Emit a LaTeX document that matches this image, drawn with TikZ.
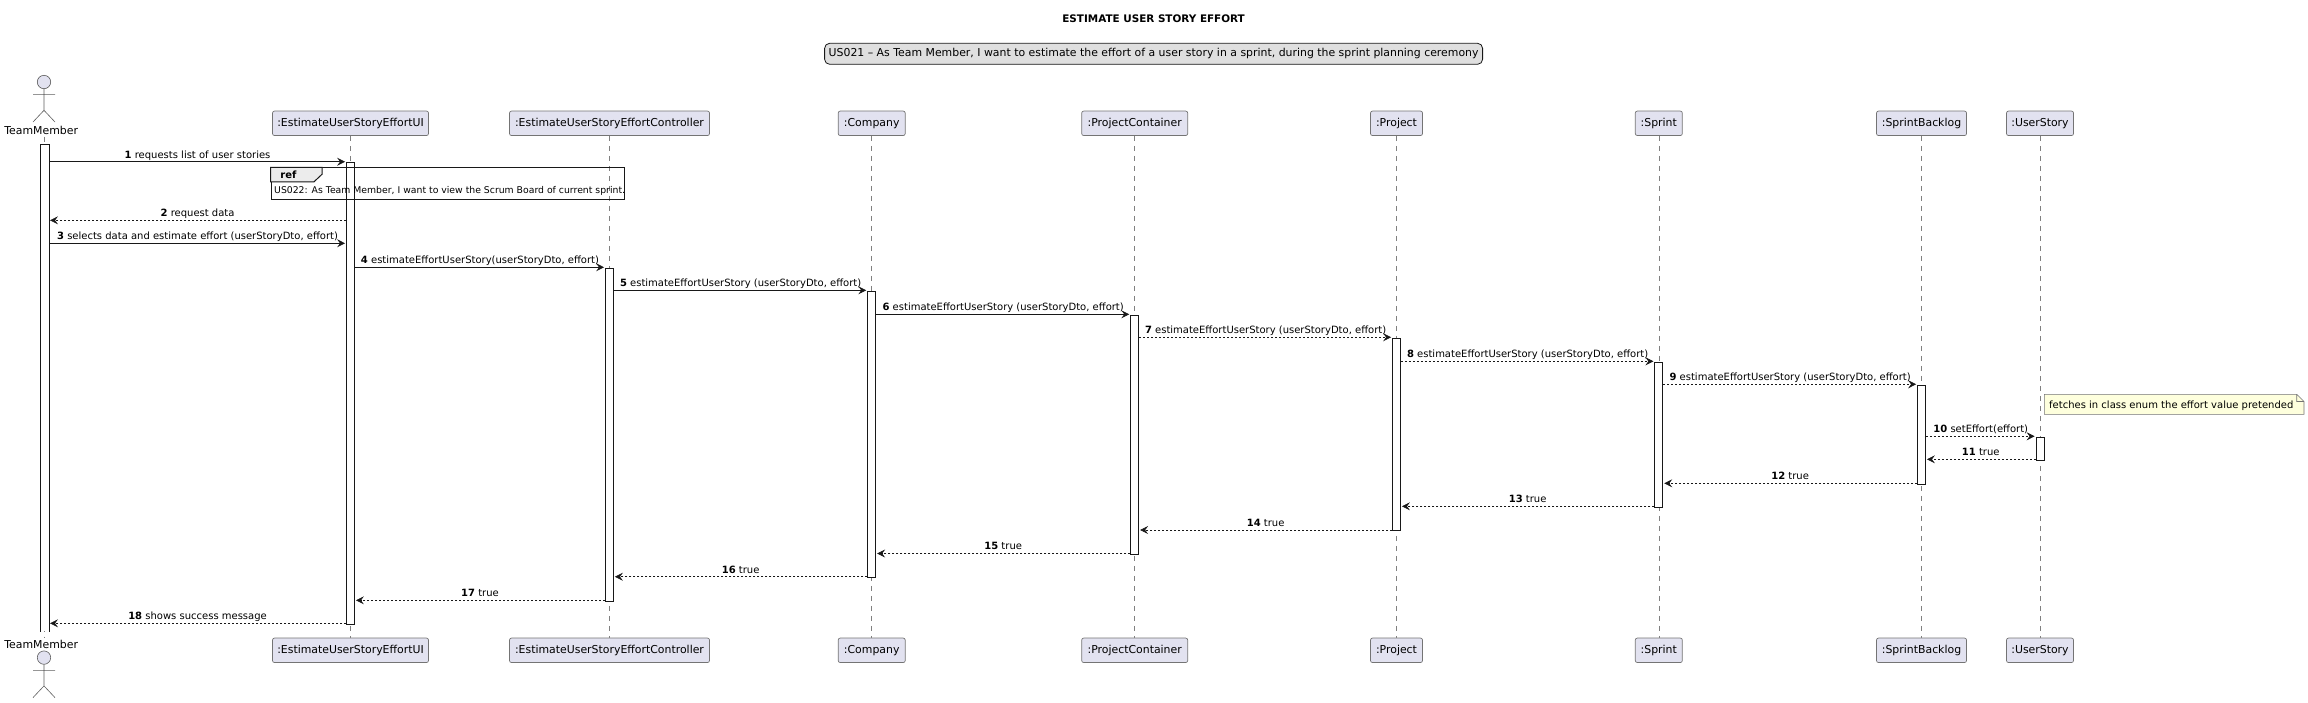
\documentclass[tikz,border=0pt]{standalone}
\usepackage{fontspec}
\setmainfont{DejaVu Sans}
\usetikzlibrary{arrows.meta,positioning}
\definecolor{partfill}{HTML}{E2E2F0}
\definecolor{inkdark}{HTML}{181818}
\definecolor{notefill}{HTML}{FEFFDD}
\newcommand{\sizeA}{\fontsize{10.9}{13}\selectfont}
\newcommand{\sizeB}{\fontsize{10}{12}\selectfont}
\begin{document}
\begin{tikzpicture}[x=1pt,y=-1pt,node distance=40pt,
  box/.style={rectangle,draw=inkdark!60,fill=partfill,rounded corners=2pt,line width=0.7pt,minimum height=24.5pt,inner sep=0pt,font=\sizeA},
  lifeline/.style={draw=inkdark!55,line width=0.5pt,dash pattern=on 5pt off 5pt},
  bar/.style={rectangle,draw=inkdark,fill=white,line width=0.8pt,minimum width=8pt,inner sep=0pt},
  arrow/.style={-{Stealth[length=8pt,width=8pt,inset=3pt]},draw=inkdark,line width=0.75pt,shorten >=1pt},
  back/.style={arrow,line width=0.6pt,dash pattern=on 2pt off 2pt},
  msg/.style={font=\sizeB,anchor=base,yshift=3.6pt,inner sep=0pt},
  actorline/.style={draw=inkdark!70,line width=0.6pt}]
\useasboundingbox (0,0) rectangle (2308,702);
% title and header
\node[font=\fontsize{10.4}{12}\selectfont\bfseries,inner sep=0pt] (title) at (1153.6,19) {ESTIMATE USER STORY EFFORT};
\node[draw=inkdark,fill=gray!25,rounded corners=5pt,line width=0.8pt,font=\sizeA,inner sep=0pt,minimum height=21pt,minimum width=658pt] (story) at (1153.6,53.8)
  {US021 – As Team Member, I want to estimate the effort of a user story in a sprint, during the sprint planning ceremony};
% participants
\node[box,minimum width=156pt] (ui) at (350.5,123.3) {:EstimateUserStoryEffortUI};
\node[box,minimum width=200pt,right=80.3pt of ui] (controller) {:EstimateUserStoryEffortController};
\node[box,minimum width=67pt,right=128pt of controller] (company) {:Company};
\node[box,minimum width=106pt,right=175.8pt of company] (container) {:ProjectContainer};
\node[box,minimum width=52pt,right=182.1pt of container] (project) {:Project};
\node[box,minimum width=47pt,right=212.1pt of project] (sprint) {:Sprint};
\node[box,minimum width=90pt,right=193.5pt of sprint] (backlog) {:SprintBacklog};
\node[box,minimum width=67pt,right=39.3pt of backlog] (story1) {:UserStory};
\node[box,minimum width=156pt,below=501.8pt of ui] (uiB) {:EstimateUserStoryEffortUI};
\node[box,minimum width=200pt,below=501.8pt of controller] (controllerB) {:EstimateUserStoryEffortController};
\node[box,minimum width=67pt,below=501.8pt of company] (companyB) {:Company};
\node[box,minimum width=106pt,below=501.8pt of container] (containerB) {:ProjectContainer};
\node[box,minimum width=52pt,below=501.8pt of project] (projectB) {:Project};
\node[box,minimum width=47pt,below=501.8pt of sprint] (sprintB) {:Sprint};
\node[box,minimum width=90pt,below=501.8pt of backlog] (backlogB) {:SprintBacklog};
\node[box,minimum width=67pt,below=501.8pt of story1] (story1B) {:UserStory};
% actor, top and bottom
\node[font=\sizeA,inner sep=0pt] (member) at (41.2,130) {TeamMember};
\node[circle,draw=inkdark!70,fill=partfill,line width=0.6pt,minimum size=13.4pt,inner sep=0pt] (head) at (44,82) {};
\draw[actorline] (head.south) -- ++(0,21.3) coordinate (hip) -- ++(-11,11.7) (hip) -- ++(11,11.7) (33,94.3) -- (55,94.3);
\node[font=\sizeA,inner sep=0pt] (memberB) at (41.2,644.3) {TeamMember};
\node[circle,draw=inkdark!70,fill=partfill,line width=0.6pt,minimum size=13.4pt,inner sep=0pt] (headB) at (44,657.6) {};
\draw[actorline] (headB.south) -- ++(0,21.3) coordinate (hipB) -- ++(-11,11.7) (hipB) -- ++(11,11.7) (33,670.3) -- (55,670.3);
\coordinate (lifeA) at (44.6,136.5);
\coordinate (lifeB) at (44.6,637);
% lifelines
\draw[lifeline] (lifeA)--(lifeB);
\draw[lifeline] (ui)--(uiB); \draw[lifeline] (controller)--(controllerB); \draw[lifeline] (company)--(companyB);
\draw[lifeline] (container)--(containerB); \draw[lifeline] (project)--(projectB); \draw[lifeline] (sprint)--(sprintB);
\draw[lifeline] (backlog)--(backlogB); \draw[lifeline] (story1)--(story1B);
% activation bars
\node[bar,draw=none,anchor=north,minimum height=486.4pt] (memberBar) at (44.6,144.3) {};
\draw[inkdark,line width=0.8pt] (memberBar.south west) |- (memberBar.north east) -- (memberBar.south east);
\node[bar,below=26.2pt of ui,minimum height=461.6pt] (uiBar) {};
\node[bar,below=131.8pt of controller,minimum height=333pt] (controllerBar) {};
\node[bar,below=154.8pt of company,minimum height=286.4pt] (companyBar) {};
\node[bar,below=178.8pt of container,minimum height=239.2pt] (containerBar) {};
\node[bar,below=201.8pt of project,minimum height=192.7pt] (projectBar) {};
\node[bar,below=225.8pt of sprint,minimum height=145pt] (sprintBar) {};
\node[bar,below=248.8pt of backlog,minimum height=99pt] (backlogBar) {};
\node[bar,below=300.8pt of story1,minimum height=23pt] (story1Bar) {};
% message rows
\foreach \n/\y in {1/161.7,2/220.3,3/243.3,4/267.3,5/290.3,6/314.3,7/337.3,8/361.3,9/384.3,10/436.3,11/459.3,12/483.3,13/506.3,14/530,15/553.5,16/576.7,17/600.3,18/623.3}
  \coordinate (r\n) at (0,\y);
\draw[arrow] (memberBar.east|-r1)--(uiBar.west|-r1) node[msg,midway] {\textbf{1} requests list of user stories};
\draw[back] (uiBar.west|-r2)--(memberBar.east|-r2) node[msg,midway] {\textbf{2} request data};
\draw[arrow] (memberBar.east|-r3)--(uiBar.west|-r3) node[msg,midway] {\textbf{3} selects data and estimate effort (userStoryDto, effort)};
\draw[arrow] (uiBar.east|-r4)--(controllerBar.west|-r4) node[msg,midway] {\textbf{4} estimateEffortUserStory(userStoryDto, effort)};
\draw[arrow] (controllerBar.east|-r5)--(companyBar.west|-r5) node[msg,midway] {\textbf{5} estimateEffortUserStory (userStoryDto, effort)};
\draw[arrow] (companyBar.east|-r6)--(containerBar.west|-r6) node[msg,midway] {\textbf{6} estimateEffortUserStory (userStoryDto, effort)};
\draw[back] (containerBar.east|-r7)--(projectBar.west|-r7) node[msg,midway] {\textbf{7} estimateEffortUserStory (userStoryDto, effort)};
\draw[back] (projectBar.east|-r8)--(sprintBar.west|-r8) node[msg,midway] {\textbf{8} estimateEffortUserStory (userStoryDto, effort)};
\draw[back] (sprintBar.east|-r9)--(backlogBar.west|-r9) node[msg,midway] {\textbf{9} estimateEffortUserStory (userStoryDto, effort)};
\draw[back] (backlogBar.east|-r10)--(story1Bar.west|-r10) node[msg,midway] {\textbf{10} setEffort(effort)};
\draw[back] (story1Bar.west|-r11)--(backlogBar.east|-r11) node[msg,midway] {\textbf{11} true};
\draw[back] (backlogBar.west|-r12)--(sprintBar.east|-r12) node[msg,midway] {\textbf{12} true};
\draw[back] (sprintBar.west|-r13)--(projectBar.east|-r13) node[msg,midway] {\textbf{13} true};
\draw[back] (projectBar.west|-r14)--(containerBar.east|-r14) node[msg,midway] {\textbf{14} true};
\draw[back] (containerBar.west|-r15)--(companyBar.east|-r15) node[msg,midway] {\textbf{15} true};
\draw[back] (companyBar.west|-r16)--(controllerBar.east|-r16) node[msg,midway] {\textbf{16} true};
\draw[back] (controllerBar.west|-r17)--(uiBar.east|-r17) node[msg,midway] {\textbf{17} true};
\draw[back] (uiBar.west|-r18)--(memberBar.east|-r18) node[msg,midway] {\textbf{18} shows success message};
% ref frame
\node[rectangle,draw=inkdark,line width=1pt,minimum width=353.8pt,minimum height=32pt,anchor=north west,inner sep=0pt] (refBox) at (270.5,167.3) {};
\draw[line width=1pt,draw=inkdark,fill=gray!15] (refBox.north west) -- ++(51.5,0) -- ++(0,7) -- ++(-8,7.5) -- ++(-43.5,0) -- cycle;
\node[font=\sizeB\bfseries,inner sep=0pt] (refLabel) at (288.5,175) {ref};
\node[font=\fontsize{9.3}{11}\selectfont,inner sep=0pt,anchor=west] (refText) at (274,190.7) {US022: As Team Member, I want to view the Scrum Board of current sprint.};
% note
\fill[notefill] (2044.3,394.3) -- (2296.7,394.3) -- (2304,401.5) -- (2304,414.3) -- (2044.3,414.3) -- cycle;
\node[font=\sizeB,inner sep=0pt,anchor=west] (noteText) at (2049,405.3) {fetches in class enum the effort value pretended};
\draw[draw=inkdark!60,line width=0.6pt] (2044.3,394.3) -- (2296.7,394.3) -- (2304,401.5) -- (2304,414.3) -- (2044.3,414.3) -- cycle (2296.7,394.3) -- (2296.7,401.5) -- (2304,401.5);
\end{tikzpicture}
\end{document}
